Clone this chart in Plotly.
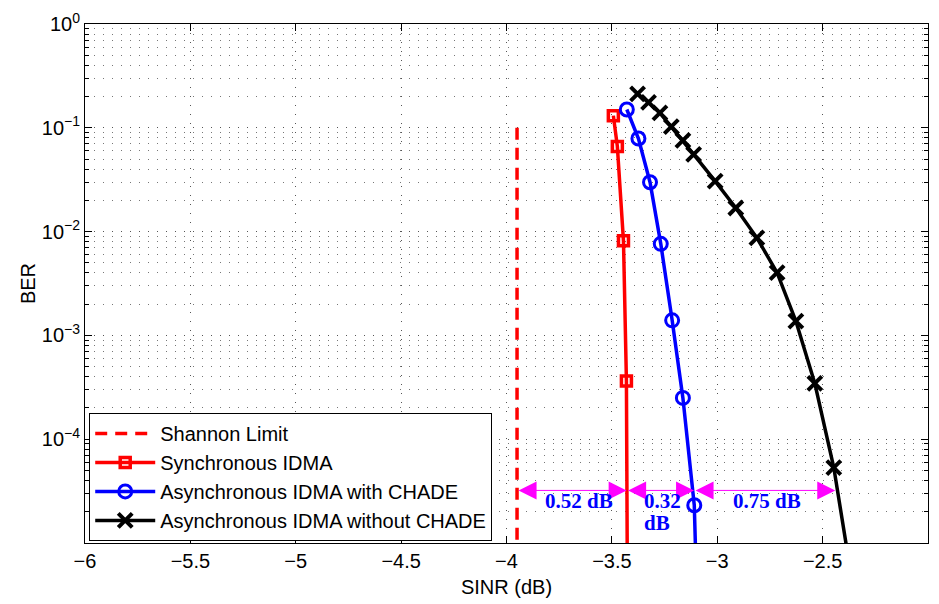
import plotly.graph_objects as go
import numpy as np

# Data
shannon_x = [-3.95, -3.95]
shannon_ber = [1e-1, 1e-6]

sync_x = [-3.493, -3.474, -3.445, -3.431, -3.425]
sync_ber = [0.131, 0.0662, 0.00815, 3.64e-4, 1e-6]

async_with_x = [-3.429, -3.374, -3.319, -3.268, -3.214, -3.163, -3.109, -3.09]
async_with_ber = [0.150, 0.0789, 0.0299, 0.00762, 0.001396, 2.50e-4, 2.31e-5, 1e-6]

async_wo_x = [-3.378, -3.326, -3.272, -3.218, -3.163, -3.112, -3.010, -2.912,
              -2.812, -2.716, -2.627, -2.537, -2.447, -2.31]
async_wo_ber = [0.212, 0.176, 0.139, 0.1028, 0.0756, 0.0555, 0.0306, 0.01687,
                0.00871, 0.00402, 0.001374, 3.45e-4, 5.33e-5, 1e-6]

# Gap annotations
gap_from = [-3.95, -3.43, -3.11]
gap_to = [-3.43, -3.11, -2.44]
gap_ber = 3.21e-5
gap_label_x = [-3.654, -3.358, -3.358, -2.763]
gap_label_ber = [2.52e-5, 2.52e-5, 1.55e-5, 2.52e-5]
gap_label_text = ["0.52 dB", "0.32", "dB", "0.75 dB"]
gap_label_anchor = ["center", "left", "left", "center"]

x_ticks = [-6, -5.5, -5, -4.5, -4, -3.5, -3, -2.5, -2]
x_ticklabels = ["−6", "−5.5", "−5", "−4.5", "−4", "−3.5", "−3", "−2.5", "−2"]
y_ticks = [1, 1e-1, 1e-2, 1e-3, 1e-4]
y_ticklabels = ["10<sup>0</sup>", "10<sup>−1</sup>", "10<sup>−2</sup>",
                "10<sup>−3</sup>", "10<sup>−4</sup>"]
y_minor = [k * 10.0 ** e for e in range(-5, 0) for k in range(2, 10)]

FONT = "Arial, Liberation Sans, sans-serif"

fig = go.Figure()
fig.add_trace(go.Scatter(x=shannon_x, y=shannon_ber, mode="lines",
                         name="Shannon Limit",
                         line=dict(color="#ff0000", width=3.5, dash="12px,8px")))
fig.add_trace(go.Scatter(x=sync_x, y=sync_ber, mode="lines+markers",
                         name="Synchronous IDMA",
                         line=dict(color="#ff0000", width=3.5),
                         marker=dict(symbol="square-open", size=10,
                                     color="#ff0000",
                                     line=dict(color="#ff0000", width=3.5))))
fig.add_trace(go.Scatter(x=async_with_x, y=async_with_ber, mode="lines+markers",
                         name="Asynchronous IDMA with CHADE",
                         line=dict(color="#0000ff", width=3.5),
                         marker=dict(symbol="circle-open", size=13,
                                     color="#0000ff",
                                     line=dict(color="#0000ff", width=3))))
fig.add_trace(go.Scatter(x=async_wo_x, y=async_wo_ber, mode="lines+markers",
                         name="Asynchronous IDMA without CHADE",
                         line=dict(color="#000000", width=3.5),
                         marker=dict(symbol="x-thin", size=14,
                                     color="#000000",
                                     line=dict(color="#000000", width=4))))

annotations = []
ly = np.log10(gap_ber)
for a, b in zip(gap_from, gap_to):
    annotations.append(dict(x=b, y=ly, ax=a, ay=ly, xref="x", yref="y",
                            axref="x", ayref="y", text="", showarrow=True,
                            arrowhead=2, arrowside="end+start", arrowsize=3.6,
                            arrowwidth=1, arrowcolor="#ff00ff"))
lab_font = dict(family="Liberation Serif, Times New Roman, serif", size=21,
                color="#0000ff")
for lx, lb, lt, an in zip(gap_label_x, gap_label_ber, gap_label_text, gap_label_anchor):
    annotations.append(dict(x=lx, y=np.log10(lb), xref="x", yref="y",
                            text="<b>" + lt + "</b>", showarrow=False, font=lab_font,
                            xanchor=an, yanchor="middle"))

grid_dash = "1px,8px"
fig.update_layout(
    width=939, height=604,
    margin=dict(l=85, r=10, t=23, b=59),
    paper_bgcolor="white", plot_bgcolor="white",
    font=dict(family=FONT, size=20, color="black"),
    showlegend=True,
    legend=dict(x=0.005, y=0.004, xanchor="left", yanchor="bottom",
                bgcolor="white", bordercolor="black", borderwidth=1,
                font=dict(family=FONT, size=20), tracegroupgap=0,
                itemwidth=60),
    annotations=annotations,
    xaxis=dict(range=[-6, -2], tickvals=x_ticks, ticktext=x_ticklabels,
               showline=True, linecolor="black", linewidth=1, mirror="allticks",
               ticks="inside", ticklen=7, tickcolor="black",
               showgrid=True, gridcolor="#555555", gridwidth=1, griddash=grid_dash,
               zeroline=False,
               title=dict(text="SINR (dB)", font=dict(size=20), standoff=8),
               tickfont=dict(size=20)),
    yaxis=dict(type="log", range=[-5, 0], tickvals=y_ticks, ticktext=y_ticklabels,
               showline=True, linecolor="black", linewidth=1, mirror="allticks",
               ticks="inside", ticklen=7, tickcolor="black",
               showgrid=True, gridcolor="#555555", gridwidth=1, griddash=grid_dash,
               zeroline=False,
               minor=dict(tickvals=y_minor, ticks="inside", ticklen=4,
                          tickcolor="black", showgrid=True, gridcolor="#777777",
                          gridwidth=1, griddash=grid_dash),
               title=dict(text="BER", font=dict(size=20), standoff=0),
               tickfont=dict(size=20)),
)

fig.write_html("out.html")
